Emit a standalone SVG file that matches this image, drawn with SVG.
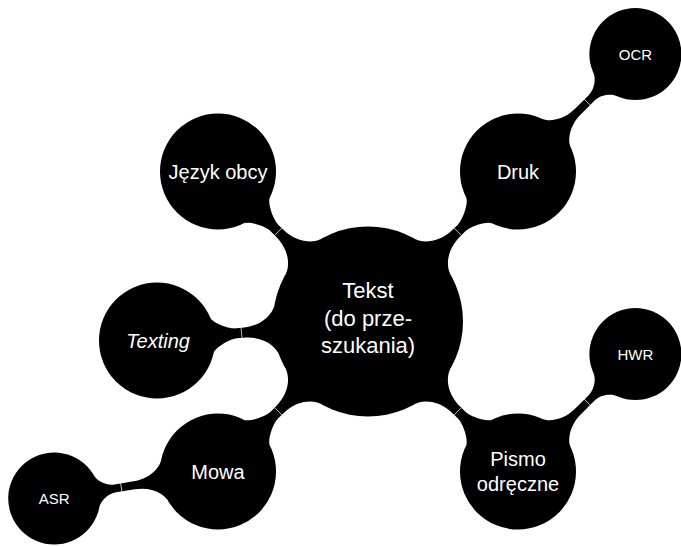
<svg xmlns="http://www.w3.org/2000/svg" xmlns:xlink="http://www.w3.org/1999/xlink" width="681" height="547" viewBox="0 0 681 547">
  <style>
    .node { fill: #000; }
    .bar { fill: #000; }
    .seam { stroke: #fff; stroke-width: 0.7; }
    text { fill: #fff; font-family: "Liberation Sans", Arial, sans-serif; text-anchor: middle; }
    .t0 { font-size: 22px; }
    .t1 { font-size: 20px; }
    .t2 { font-size: 15px; }
  </style>
  <defs>
    <g id="bar1">
      <path class="bar" d="M 91.76,24.59 C 93.05,19.76 102,5 126,5 L 132,5 C 140,5 155.3,13.16 156.84,17.92 L 156.84,-17.92 C 155.3,-13.16 140,-5 132,-5 L 126,-5 C 102,-5 93.05,-19.76 91.76,-24.59 Z"/>
      <line class="seam" x1="127" y1="-5.5" x2="127" y2="5.5"/>
    </g>
    <g id="bar2">
      <path class="bar" d="M 54.5,19.84 C 56.21,15.14 66,4 85,4 L 104,4 C 114,4 121.4,11.97 122.77,15.73 L 122.77,-15.73 C 121.4,-11.97 114,-4 104,-4 L 85,-4 C 66,-4 56.21,-15.14 54.5,-19.84 Z"/>
      <line class="seam" x1="98" y1="-4.5" x2="98" y2="4.5"/>
    </g>
  </defs>

  <g id="connectors">
    <use href="#bar1" xlink:href="#bar1" transform="translate(368,321.5) rotate(-45)"/>
    <use href="#bar1" xlink:href="#bar1" transform="translate(368,321.5) rotate(-135)"/>
    <use href="#bar1" xlink:href="#bar1" transform="translate(368,321.5) rotate(174.85)"/>
    <use href="#bar1" xlink:href="#bar1" transform="translate(368,321.5) rotate(135)"/>
    <use href="#bar1" xlink:href="#bar1" transform="translate(368,321.5) rotate(45)"/>
    <use href="#bar2" xlink:href="#bar2" transform="translate(518,171.5) rotate(-45)"/>
    <use href="#bar2" xlink:href="#bar2" transform="translate(518,471.5) rotate(-45)"/>
    <use href="#bar2" xlink:href="#bar2" transform="translate(218,471.5) rotate(170.65)"/>
  </g>

  <g id="tekst">
    <circle class="node" cx="368" cy="321.5" r="95"/>
    <text class="t0" x="368" y="298">Tekst</text>
    <text class="t0" x="368" y="325.5">(do prze-</text>
    <text class="t0" x="368" y="353">szukania)</text>
  </g>
  <g id="druk">
    <circle class="node" cx="518" cy="171.5" r="58"/>
    <text class="t1" x="518" y="178.5">Druk</text>
  </g>
  <g id="ocr">
    <circle class="node" cx="635.4" cy="54.1" r="46"/>
    <text class="t2" x="635.4" y="59.5">OCR</text>
  </g>
  <g id="jezyk-obcy">
    <circle class="node" cx="218" cy="171.5" r="58"/>
    <text class="t1" x="218" y="178.5">Język obcy</text>
  </g>
  <g id="texting">
    <circle class="node" cx="157" cy="340.5" r="58"/>
    <text class="t1" x="158" y="347.5" font-style="italic">Texting</text>
  </g>
  <g id="mowa">
    <circle class="node" cx="218" cy="471.5" r="58"/>
    <text class="t1" x="218" y="478.5">Mowa</text>
  </g>
  <g id="asr">
    <circle class="node" cx="54.2" cy="498.5" r="46"/>
    <text class="t2" x="54.2" y="504">ASR</text>
  </g>
  <g id="pismo">
    <circle class="node" cx="518" cy="471.5" r="58"/>
    <text class="t1" x="518" y="465.5">Pismo</text>
    <text class="t1" x="518" y="490.5">odręczne</text>
  </g>
  <g id="hwr">
    <circle class="node" cx="635.4" cy="354.1" r="46"/>
    <text class="t2" x="635.4" y="359.5">HWR</text>
  </g>
</svg>
